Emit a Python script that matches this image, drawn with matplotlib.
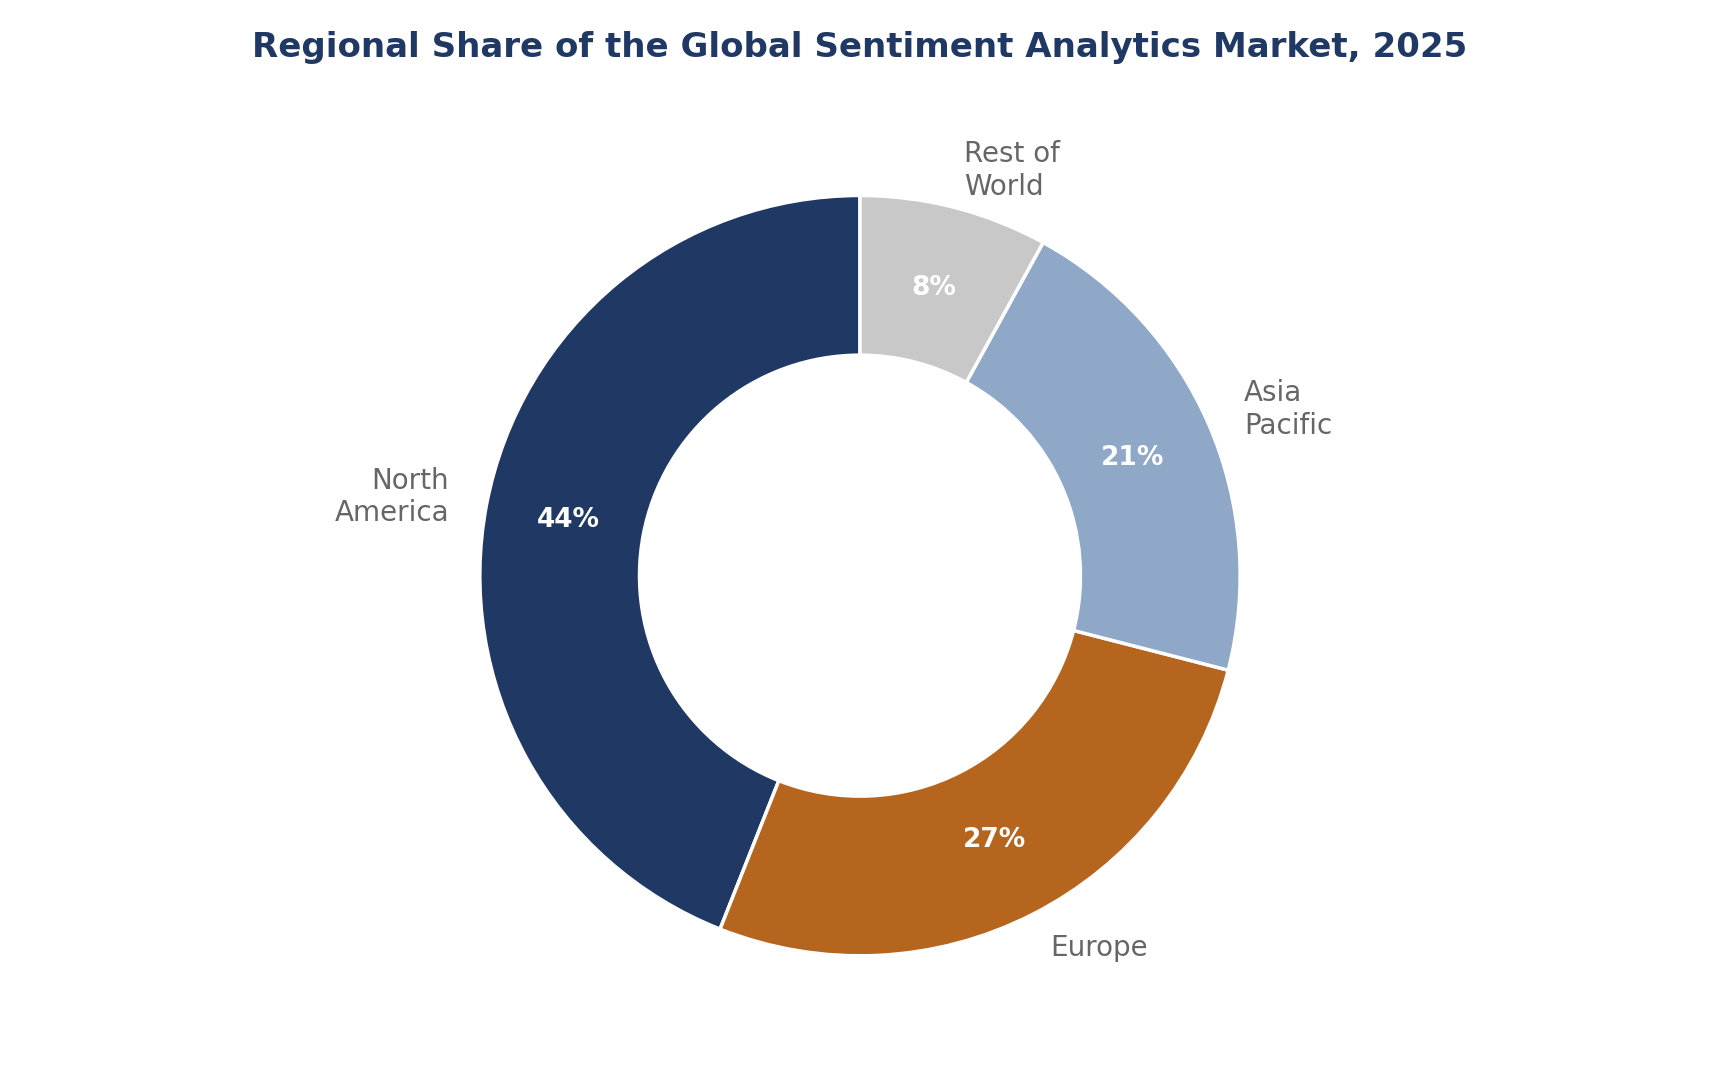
import numpy as np
import matplotlib.pyplot as plt

regions = ["North\nAmerica", "Europe", "Asia\nPacific", "Rest of\nWorld"]
shares = [44, 27, 21, 8]
colors = ["#203864", "#b5651e", "#8fa8c8", "#c8c8c8"]

fig = plt.figure(figsize=(17.2, 10.8), dpi=100)
ax = fig.add_axes([0.0, 0.027, 1.0, 0.88])

wedges, texts, autotexts = ax.pie(
    shares,
    labels=regions,
    colors=colors,
    startangle=90,
    counterclock=True,
    autopct="%d%%",
    pctdistance=0.78,
    labeldistance=1.1,
    wedgeprops=dict(width=0.42, edgecolor="white", linewidth=2.5),
    textprops=dict(fontsize=20, color="#666666"),
)
for t in autotexts:
    t.set_color("white")
    t.set_fontweight("bold")
    t.set_fontsize(19)
ax.set_aspect("equal")

fig.suptitle("Regional Share of the Global Sentiment Analytics Market, 2025",
             fontsize=24.5, fontweight="bold", color="#1f3864", y=0.971)

fig.savefig("out.png", dpi=100, facecolor="white")
